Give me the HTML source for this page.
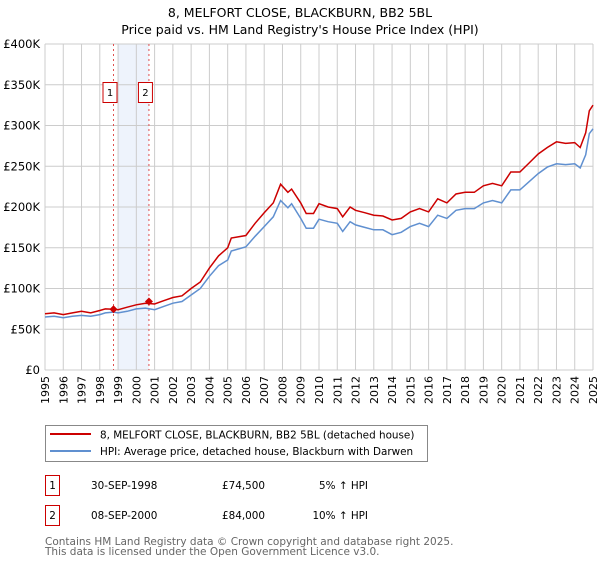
<!DOCTYPE html>
<html><head><meta charset="utf-8"><style>
body{margin:0;width:600px;height:560px;background:#fff;font-family:"Liberation Sans","DejaVu Sans",sans-serif;overflow:hidden}
svg text{font-family:"DejaVu Sans","Liberation Sans",sans-serif}
</style></head><body>
<svg id="chart" width="600" height="560" xmlns="http://www.w3.org/2000/svg">
<text x="300" y="17" text-anchor="middle" font-size="12.5">8, MELFORT CLOSE, BLACKBURN, BB2 5BL</text>
<text x="300" y="34" text-anchor="middle" font-size="12.5">Price paid vs. HM Land Registry's House Price Index (HPI)</text>
<g id="grid"></g><g id="series"></g><g id="axes"></g>
<g>
<rect x="45.5" y="425.5" width="382" height="36" fill="#fff" stroke="#888"/>
<line x1="50" y1="434" x2="91" y2="434" stroke="#cc0000" stroke-width="2"/>
<text x="100" y="438.5" font-size="10.4">8, MELFORT CLOSE, BLACKBURN, BB2 5BL (detached house)</text>
<line x1="50" y1="451" x2="91" y2="451" stroke="#6090d0" stroke-width="2"/>
<text x="100" y="455" font-size="10.4">HPI: Average price, detached house, Blackburn with Darwen</text>
</g>
<g font-size="10.4">
<rect x="45.5" y="475.5" width="14" height="20" fill="#fff" stroke="#cc0000"/>
<text x="52.5" y="489" text-anchor="middle">1</text>
<text x="91" y="489">30-SEP-1998</text><text x="222" y="489">£74,500</text><text x="368" y="489" text-anchor="end">5% ↑ HPI</text>
<rect x="45.5" y="505.5" width="14" height="20" fill="#fff" stroke="#cc0000"/>
<text x="52.5" y="519" text-anchor="middle">2</text>
<text x="91" y="519">08-SEP-2000</text><text x="222" y="519">£84,000</text><text x="368" y="519" text-anchor="end">10% ↑ HPI</text>
</g>
<text x="45" y="545" font-size="10.5" fill="#666">Contains HM Land Registry data © Crown copyright and database right 2025.</text>
<text x="45" y="555" font-size="10.5" fill="#666">This data is licensed under the Open Government Licence v3.0.</text>
</svg>
<script>
const years=[1995,1995.5,1996,1996.5,1997,1997.5,1998,1998.3,1998.75,1999,1999.5,2000,2000.5,2001,2001.5,2002,2002.5,2003,2003.5,2004,2004.5,2005,2005.2,2006,2006.5,2007,2007.5,2007.9,2008.3,2008.5,2009,2009.3,2009.7,2010,2010.5,2011,2011.3,2011.7,2012,2012.5,2013,2013.5,2014,2014.5,2015,2015.5,2016,2016.5,2017,2017.5,2018,2018.5,2019,2019.5,2020,2020.5,2021,2021.5,2022,2022.5,2023,2023.5,2024,2024.3,2024.6,2024.8,2025];
const hpi=[65,66,64,66,67,66,68,70,71,70,72,75,76,74,78,82,84,92,100,115,128,135,146,151,164,176,188,208,199,204,186,174,174,185,182,180,170,182,178,175,172,172,166,169,176,180,176,190,186,196,198,198,205,208,205,221,221,231,241,249,253,252,253,248,264,290,296];
const price=[69,70,68,70,72,70,73,75,74.5,74,77,80,82,81,85,89,91,100,108,125,140,150,162,165,180,193,205,228,218,222,205,192,192,204,200,198,188,200,196,193,190,189,184,186,194,198,194,210,205,216,218,218,226,229,226,243,243,254,265,273,280,278,279,273,291,318,325];
const saleYears=[1998.75,2000.69];
const salePrices=[74.5,84];
const yTicks=[0,50,100,150,200,250,300,350,400];
const yLabels=["£0","£50K","£100K","£150K","£200K","£250K","£300K","£350K","£400K"];
const xTicks=[];for(let y=1995;y<=2025;y++)xTicks.push(y);
const X0=45,X1=593,Y0=370,Y1=44;
const sx=v=>X0+(v-1995)/30*(X1-X0);
const sy=v=>Y0-v/400*(Y0-Y1);
const NS="http://www.w3.org/2000/svg";
function mk(t,a,p){const e=document.createElementNS(NS,t);for(const k in a)e.setAttribute(k,a[k]);p.appendChild(e);return e;}
const grid=document.getElementById('grid'),ser=document.getElementById('series'),ax=document.getElementById('axes');
const band=mk('rect',{x:sx(1999.0),y:Y1,width:sx(2000.69)-sx(1999.0),height:Y0-Y1,fill:'#eef3fc'},grid);


xTicks.forEach(t=>{const l=mk('line',{x1:sx(t),x2:sx(t),y1:Y1,y2:Y0,stroke:'#ccc'},grid);


const tx=mk('text',{x:0,y:0,'font-size':'11','text-anchor':'end',transform:`translate(${sx(t)+4},${Y0+6}) rotate(-90)`},ax);
tx.textContent=t;

});
yTicks.forEach((t,i)=>{const l=mk('line',{x1:X0,x2:X1,y1:sy(t),y2:sy(t),stroke:'#ccc'},grid);


const tx=mk('text',{x:X0-5,y:sy(t)+4,'font-size':'11.5','text-anchor':'end'},ax);
tx.textContent=yLabels[i];

});
saleYears.forEach((s,i)=>{const l=mk('line',{x1:sx(s),x2:sx(s),y1:Y1,y2:Y0,stroke:'#e05050','stroke-dasharray':'2,3'},grid);


const r=mk('rect',{x:sx(s)-10.5,y:82.5,width:14,height:20,fill:'#fff',stroke:'#cc0000'},grid);


const tx=mk('text',{x:sx(s)-3.5,y:96,'font-size':'10','text-anchor':'middle'},grid);tx.textContent=i+1;

});
const pth=(xs,ys)=>xs.map((x,i)=>(i?'L':'M')+sx(x).toFixed(1)+','+sy(ys[i]).toFixed(1)).join('');
const b=mk('path',{d:pth(years,hpi),fill:'none',stroke:'#6090d0','stroke-width':1.5},ser);


const r=mk('path',{d:pth(years,price),fill:'none',stroke:'#cc0000','stroke-width':1.5},ser);


saleYears.forEach((s,i)=>{const x=sx(s),y=sy(salePrices[i]);
const d=mk('path',{d:`M${x-4},${y}L${x},${y-4}L${x+4},${y}L${x},${y+4}Z`,fill:'#cc0000'},ser);

});
</script>
</body></html>
